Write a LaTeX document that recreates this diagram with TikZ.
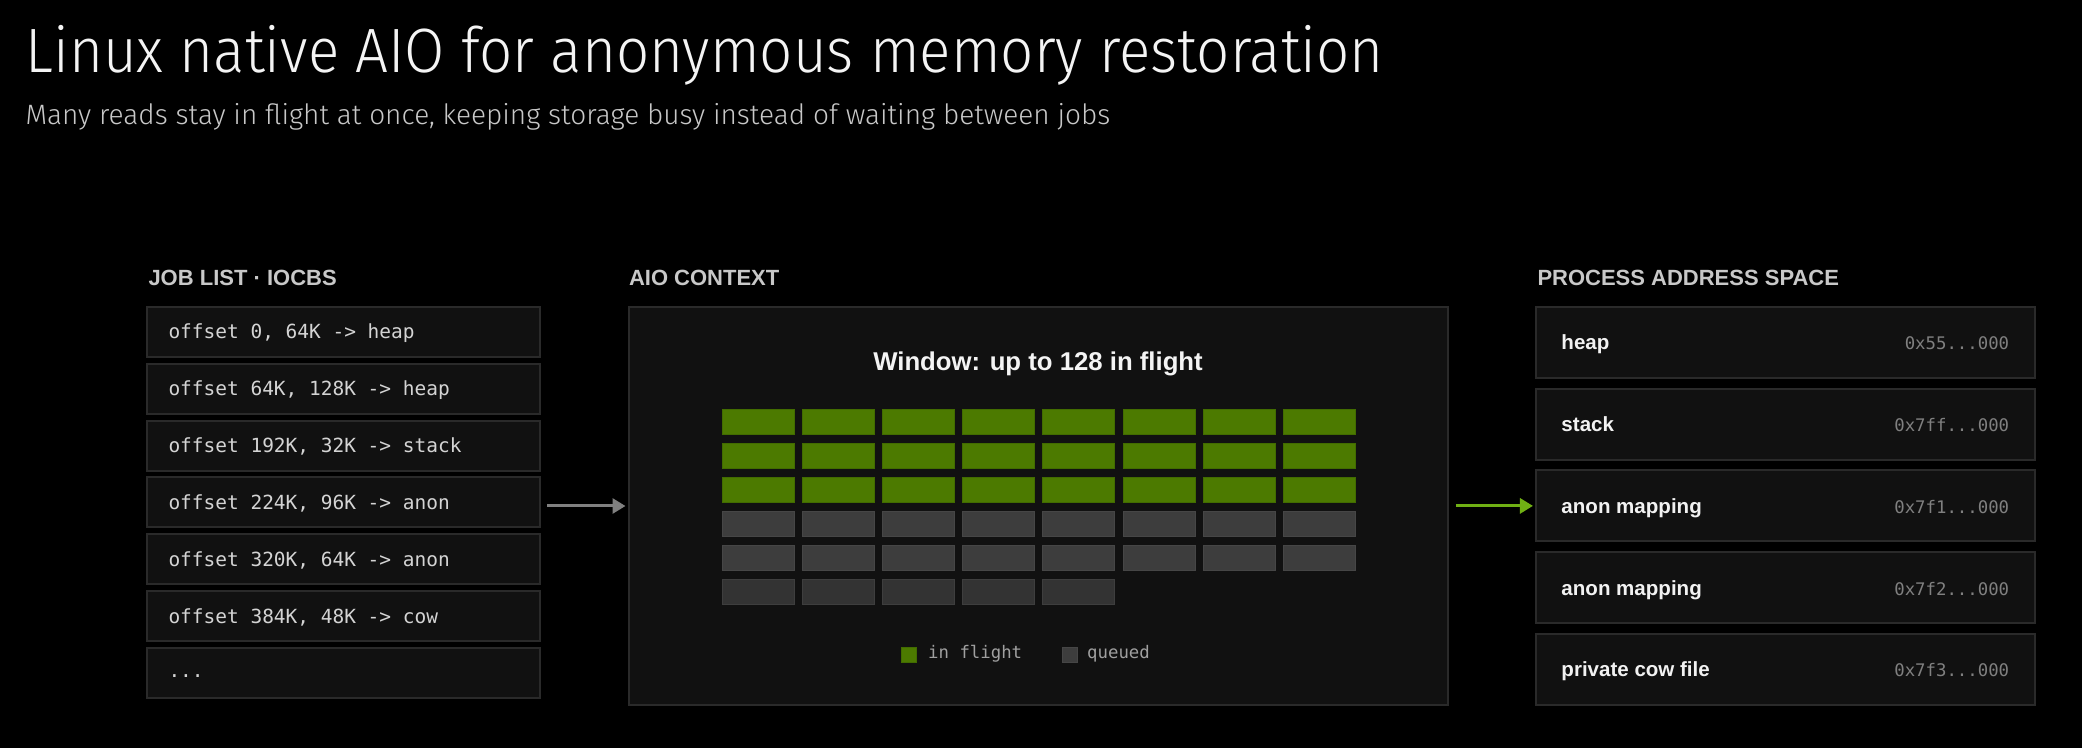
\documentclass[tikz,border=0pt]{standalone}
\usepackage{fontspec}
\setmainfont{Liberation Sans}
\setmonofont{DejaVu Sans Mono}
\newfontfamily\lightfont{Fira Sans Light}[FakeStretch=0.93]
\newfontfamily\sublightfont{Fira Sans Light}
\usetikzlibrary{arrows.meta,calc}

\tikzset{every picture/.style={line width=0.75pt}}
\tikzset{
  panel/.style={draw={rgb, 255:red, 42; green, 42; blue, 42}, fill={rgb, 255:red, 17; green, 17; blue, 17}, line width=1.5pt},
  jobbox/.style={panel, minimum width=294.75pt, minimum height=37.5pt, inner sep=0pt},
  jobtext/.style={inner sep=0pt, anchor=base west, text={rgb, 255:red, 212; green, 212; blue, 212}, font=\ttfamily\fontsize{14.6pt}{16pt}\selectfont},
  membox/.style={panel, minimum width=373.9pt, minimum height=53.25pt, inner sep=0pt},
  memname/.style={inner sep=0pt, text={rgb, 255:red, 242; green, 242; blue, 242}, font=\bfseries\fontsize{15.4pt}{17pt}\selectfont},
  addr/.style={inner sep=0pt, text={rgb, 255:red, 128; green, 128; blue, 128}, font=\ttfamily\fontsize{13pt}{15pt}\selectfont},
  header/.style={inner sep=0pt, anchor=base west, text={rgb, 255:red, 200; green, 200; blue, 200}, font=\bfseries\fontsize{16.5pt}{18pt}\selectfont},
  flight/.style={draw={rgb, 255:red, 66; green, 108; blue, 0}, fill={rgb, 255:red, 76; green, 122; blue, 0}, line width=0.75pt},
  queued/.style={draw={rgb, 255:red, 70; green, 70; blue, 70}, fill={rgb, 255:red, 61; green, 61; blue, 61}, line width=0.75pt},
  waiting/.style={draw={rgb, 255:red, 62; green, 62; blue, 62}, fill={rgb, 255:red, 51; green, 51; blue, 51}, line width=0.75pt},
  legendtext/.style={inner sep=0pt, anchor=base west, text={rgb, 255:red, 160; green, 160; blue, 160}, font=\ttfamily\fontsize{13pt}{15pt}\selectfont},
  greyflow/.style={draw={rgb, 255:red, 128; green, 128; blue, 128}, line width=2.25pt, -{Triangle[length=9.75pt, width=11.25pt]}},
  greenflow/.style={draw={rgb, 255:red, 112; green, 176; blue, 20}, line width=2.25pt, -{Triangle[length=9.75pt, width=11.25pt]}}
}

\begin{document}
\begin{tikzpicture}[x=0.75pt,y=0.75pt,yscale=-1,xscale=1]
%set diagram left start at 0, and has height of 748
\useasboundingbox (0,0) rectangle (2082,748);
\fill [black] (0,0) rectangle (2082,748);

% Text Node
\node [anchor=base west, inner sep=0pt, text={rgb, 255:red, 244; green, 244; blue, 244}, font=\lightfont\fontsize{47pt}{52pt}\selectfont] (title) at (25,73) {Linux native AIO for anonymous memory restoration};
% Text Node
\node [anchor=base west, inner sep=0pt, text={rgb, 255:red, 200; green, 200; blue, 200}, font=\sublightfont\fontsize{21pt}{24pt}\selectfont] (subtitle) at (25,125) {Many reads stay in flight at once, keeping storage busy instead of waiting between jobs};

% Text Node
\node [header] (jobhead) at (148,286) {JOB LIST · IOCBS};
% Text Node
\node [header] (ctxhead) at (628.5,286) {AIO CONTEXT};
% Text Node
\node [header] (memhead) at (1537,286) {PROCESS ADDRESS SPACE};

%Shape: Rectangle [job list]
\node [jobbox] (job1) at (343.5,332) {};
\node [jobbox] (job2) at (343.5,388.8) {};
\node [jobbox] (job3) at (343.5,445.6) {};
\node [jobbox] (job4) at (343.5,502.4) {};
\node [jobbox] (job5) at (343.5,559.2) {};
\node [jobbox] (job6) at (343.5,616) {};
\node [jobbox] (job7) at (343.5,672.8) {};
% Text Node
\node [jobtext] (job1t) at ($(job1.west)+(22,7)$) {offset 0, 64K -> heap};
\node [jobtext] (job2t) at ($(job2.west)+(22,7)$) {offset 64K, 128K -> heap};
\node [jobtext] (job3t) at ($(job3.west)+(22,7)$) {offset 192K, 32K -> stack};
\node [jobtext] (job4t) at ($(job4.west)+(22,7)$) {offset 224K, 96K -> anon};
\node [jobtext] (job5t) at ($(job5.west)+(22,7)$) {offset 320K, 64K -> anon};
\node [jobtext] (job6t) at ($(job6.west)+(22,7)$) {offset 384K, 48K -> cow};
\node [jobtext] (job7t) at ($(job7.west)+(22,5)$) {...};

%Shape: Rectangle [aio context]
\node [panel, minimum width=614.25pt, minimum height=298.5pt] (ctx) at (1038,506) {};
% Text Node
\node [anchor=base, inner sep=0pt, text={rgb, 255:red, 244; green, 244; blue, 244}, font=\bfseries\fontsize{19.3pt}{21pt}\selectfont] (window) at (1038,371) {Window: up to 128 in flight};

%Shape: Rectangle [in flight, row 1]
\draw [flight] (722,410) rectangle ++(72,25) (802.2,410) rectangle ++(72,25) (882.4,410) rectangle ++(72,25) (962.6,410) rectangle ++(72,25) (1042.8,410) rectangle ++(72,25) (1123,410) rectangle ++(72,25) (1203.2,410) rectangle ++(72,25) (1283.4,410) rectangle ++(72,25) ;
%Shape: Rectangle [in flight, row 2]
\draw [flight] (722,443.8) rectangle ++(72,25) (802.2,443.8) rectangle ++(72,25) (882.4,443.8) rectangle ++(72,25) (962.6,443.8) rectangle ++(72,25) (1042.8,443.8) rectangle ++(72,25) (1123,443.8) rectangle ++(72,25) (1203.2,443.8) rectangle ++(72,25) (1283.4,443.8) rectangle ++(72,25) ;
%Shape: Rectangle [in flight, row 3]
\draw [flight] (722,477.6) rectangle ++(72,25) (802.2,477.6) rectangle ++(72,25) (882.4,477.6) rectangle ++(72,25) (962.6,477.6) rectangle ++(72,25) (1042.8,477.6) rectangle ++(72,25) (1123,477.6) rectangle ++(72,25) (1203.2,477.6) rectangle ++(72,25) (1283.4,477.6) rectangle ++(72,25) ;
%Shape: Rectangle [queued, row 4]
\draw [queued] (722,511.4) rectangle ++(72,25) (802.2,511.4) rectangle ++(72,25) (882.4,511.4) rectangle ++(72,25) (962.6,511.4) rectangle ++(72,25) (1042.8,511.4) rectangle ++(72,25) (1123,511.4) rectangle ++(72,25) (1203.2,511.4) rectangle ++(72,25) (1283.4,511.4) rectangle ++(72,25) ;
%Shape: Rectangle [queued, row 5]
\draw [queued] (722,545.2) rectangle ++(72,25) (802.2,545.2) rectangle ++(72,25) (882.4,545.2) rectangle ++(72,25) (962.6,545.2) rectangle ++(72,25) (1042.8,545.2) rectangle ++(72,25) (1123,545.2) rectangle ++(72,25) (1203.2,545.2) rectangle ++(72,25) (1283.4,545.2) rectangle ++(72,25) ;
%Shape: Rectangle [queued, row 6]
\draw [waiting] (722,579) rectangle ++(72,25) (802.2,579) rectangle ++(72,25) (882.4,579) rectangle ++(72,25) (962.6,579) rectangle ++(72,25) (1042.8,579) rectangle ++(72,25) ;

%Shape: Square [legend]
\draw [flight] (901,647) rectangle (916,662) ;
% Text Node
\node [legendtext] (inflight) at (927.7,658.5) {in flight};
%Shape: Square [legend]
\draw [queued] (1062,647) rectangle (1077,662) ;
% Text Node
\node [legendtext] (queue) at (1086.7,658.5) {queued};

%Shape: Rectangle [address space]
\node [membox] (mem1) at (1785.75,342.5) {};
\node [membox] (mem2) at (1785.75,424.2) {};
\node [membox] (mem3) at (1785.75,505.9) {};
\node [membox] (mem4) at (1785.75,587.6) {};
\node [membox] (mem5) at (1785.75,669.3) {};
% Text Node
\node [memname, anchor=base west] (mem1n) at ($(mem1.west)+(25.5,7.5)$) {heap};
\node [addr, anchor=base east] (mem1a) at ($(mem1.east)+(-26.4,7.5)$) {0x55...000};
\node [memname, anchor=base west] (mem2n) at ($(mem2.west)+(25.5,7.5)$) {stack};
\node [addr, anchor=base east] (mem2a) at ($(mem2.east)+(-26.4,7.5)$) {0x7ff...000};
\node [memname, anchor=base west] (mem3n) at ($(mem3.west)+(25.5,7.5)$) {anon mapping};
\node [addr, anchor=base east] (mem3a) at ($(mem3.east)+(-26.4,7.5)$) {0x7f1...000};
\node [memname, anchor=base west] (mem4n) at ($(mem4.west)+(25.5,7.5)$) {anon mapping};
\node [addr, anchor=base east] (mem4a) at ($(mem4.east)+(-26.4,7.5)$) {0x7f2...000};
\node [memname, anchor=base west] (mem5n) at ($(mem5.west)+(25.5,7.5)$) {private cow file};
\node [addr, anchor=base east] (mem5a) at ($(mem5.east)+(-26.4,7.5)$) {0x7f3...000};

%Straight Lines [jobs to context]
\draw [greyflow] ([xshift=4.5pt]job4.east |- ctx.west) -- ([xshift=-1.5pt]ctx.west) ;
%Straight Lines [context to anon mapping]
\draw [greenflow] ([xshift=5.5pt]ctx.east |- mem3.west) -- ([xshift=-1.9pt]mem3.west) ;

\end{tikzpicture}
\end{document}
